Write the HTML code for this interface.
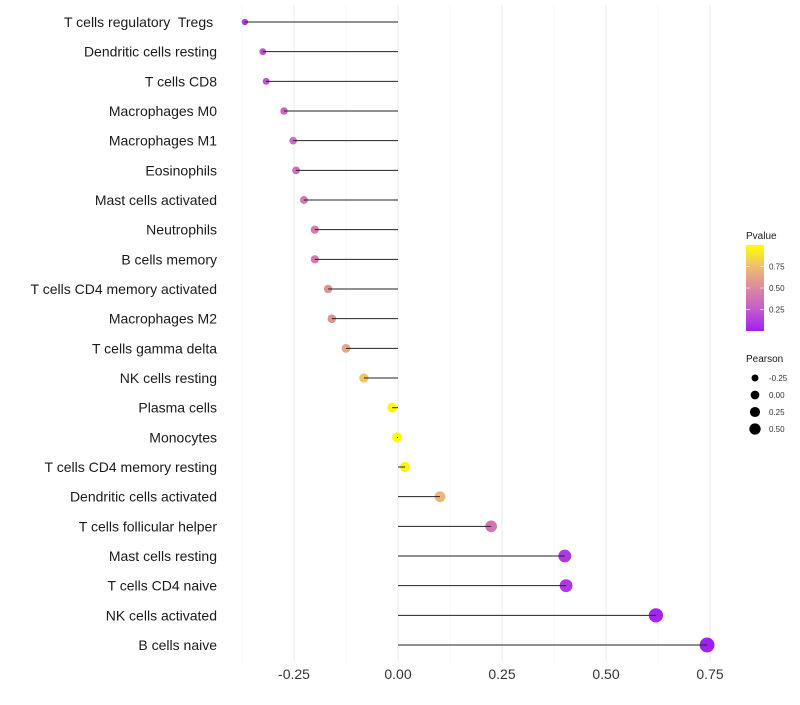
<!DOCTYPE html>
<html><head><meta charset="utf-8"><style>
body{margin:0;background:#fff;font-family:"Liberation Sans",sans-serif}
text{white-space:pre}
</style></head><body>
<svg id="chart" width="800" height="700" xmlns="http://www.w3.org/2000/svg" font-family="Liberation Sans, sans-serif"></svg>
<script>
const categories=["T cells regulatory  Tregs ","Dendritic cells resting","T cells CD8","Macrophages M0","Macrophages M1","Eosinophils","Mast cells activated","Neutrophils","B cells memory","T cells CD4 memory activated","Macrophages M2","T cells gamma delta","NK cells resting","Plasma cells","Monocytes","T cells CD4 memory resting","Dendritic cells activated","T cells follicular helper","Mast cells resting","T cells CD4 naive","NK cells activated","B cells naive"];
const pearson=[-0.368,-0.325,-0.317,-0.274,-0.252,-0.245,-0.226,-0.2,-0.2,-0.168,-0.159,-0.125,-0.082,-0.014,-0.002,0.017,0.101,0.224,0.401,0.404,0.62,0.743];
const pvalues=[0.1,0.2,0.22,0.3,0.35,0.36,0.4,0.42,0.42,0.55,0.55,0.65,0.78,0.97,0.99,0.95,0.72,0.38,0.1,0.1,0.02,0.002];
const xTicks=[-0.25,0,0.25,0.5,0.75];
const xTickLabels=["-0.25","0.00","0.25","0.50","0.75"];
const pTicks=[0.25,0.5,0.75];
const sizeLegend=[-0.25,0,0.25,0.5];
const sizeLegendLabels=["-0.25","0.00","0.25","0.50"];

const svg=document.getElementById('chart');
const NS="http://www.w3.org/2000/svg";
function mk(t,a,p){const e=document.createElementNS(NS,t);for(const k in a)e.setAttribute(k,a[k]);(p||svg).appendChild(e);return e;}
const x=v=>398+v*416;
const y=i=>22+i*(623/21);
const rad=v=>Math.sqrt(Math.max(3,25+41*v));
const stops=[[0,[160,32,240]],[0.25,[196,92,204]],[0.5,[218,138,158]],[0.75,[240,188,112]],[1,[255,255,0]]];
function col(p){for(let i=1;i<stops.length;i++){if(p<=stops[i][0]){const a=stops[i-1],b=stops[i],t=(p-a[0])/(b[0]-a[0]);return 'rgb('+a[1].map((c,j)=>Math.round(c+(b[1][j]-c)*t)).join(',')+')';}}return 'rgb(255,255,0)';}

for(let v=-0.375;v<=0.76;v+=0.125){const major=Math.abs((v*4)%1)<1e-6;const g=mk('line',{x1:x(v),x2:x(v),y1:5,y2:662,stroke:major?'#ebebeb':'#f4f4f4','stroke-width':major?1:0.6});

}
xTicks.forEach((v,i)=>{const t=mk('text',{x:x(v),y:679,'text-anchor':'middle','font-size':14,fill:'#333'});t.textContent=xTickLabels[i];

});
categories.forEach((c,i)=>{
 const t=mk('text',{x:217,y:y(i)+5,'text-anchor':'end','font-size':14,fill:'#1a1a1a'});t.textContent=c;
 
 
 const d=mk('circle',{cx:x(pearson[i]),cy:y(i),r:rad(pearson[i]),fill:col(pvalues[i])});
 
 
 const l=mk('line',{x1:x(0),x2:x(pearson[i]),y1:y(i),y2:y(i),stroke:'#222','stroke-width':1});
 
 
});
const defs=mk('defs',{});const lg=mk('linearGradient',{id:'pg',x1:0,y1:1,x2:0,y2:0},defs);
stops.forEach(s=>mk('stop',{offset:s[0],'stop-color':'rgb('+s[1].join(',')+')'},lg));
const lt=mk('text',{x:746,y:239,'font-size':10,fill:'#1a1a1a'});lt.textContent='Pvalue';


const cb=mk('rect',{x:746,y:245,width:18,height:86,fill:'url(#pg)'});


pTicks.forEach(p=>{const yy=331-p*86;mk('line',{x1:746,x2:750,y1:yy,y2:yy,stroke:'#fff','stroke-opacity':0.6});mk('line',{x1:760,x2:764,y1:yy,y2:yy,stroke:'#fff','stroke-opacity':0.6});
const t=mk('text',{x:769,y:yy+3,'font-size':8,fill:'#333'});t.textContent=p.toFixed(2);

});
const st=mk('text',{x:746,y:362,'font-size':10,fill:'#1a1a1a'});st.textContent='Pearson';


sizeLegend.forEach((v,i)=>{const yy=378+i*17;const c=mk('circle',{cx:755,cy:yy,r:rad(v)*0.75+0.6,fill:'#000'});


const t=mk('text',{x:769,y:yy+3,'font-size':8,fill:'#333'});t.textContent=sizeLegendLabels[i];

});
</script>
</body></html>
